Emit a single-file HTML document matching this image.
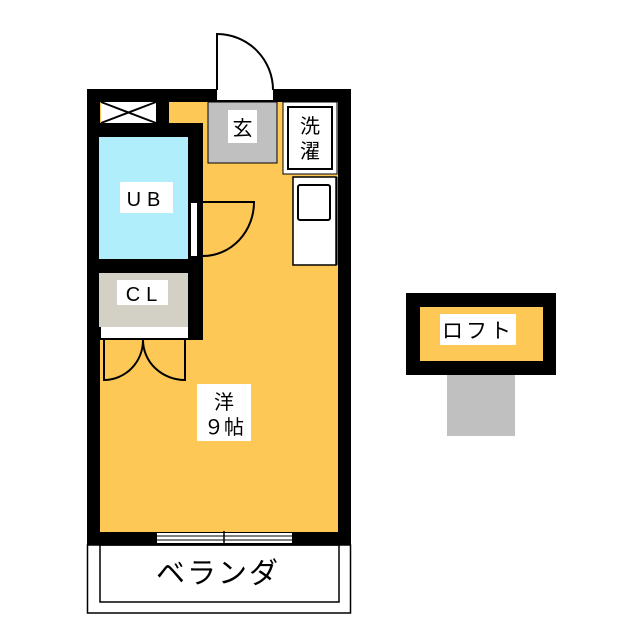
<!DOCTYPE html>
<html><head><meta charset="utf-8"><style>
html,body{margin:0;padding:0;background:#fff;}
svg{display:block;}
text{font-family:"Liberation Sans","Noto Sans CJK JP",sans-serif;fill:#000;}
</style></head><body>
<svg width="640" height="640" viewBox="0 0 640 640" xmlns="http://www.w3.org/2000/svg">
<rect x="0" y="0" width="640" height="640" fill="#fff"/>
<!-- outer walls -->
<rect x="87" y="89" width="264" height="456" fill="#000"/>
<rect x="100" y="102" width="238" height="430" fill="#FEC857"/>
<!-- vent -->
<rect x="101" y="102" width="55" height="21" fill="#fff"/>
<path d="M101 102 L156 123 M156 102 L101 123" stroke="#000" stroke-width="2"/>
<rect x="156" y="100" width="13" height="25" fill="#000"/>
<!-- UB/CL block -->
<rect x="87" y="123" width="116" height="217" fill="#000"/>
<rect x="99" y="137" width="89" height="122" fill="#B0EEFB"/>
<rect x="99" y="273" width="89" height="54" fill="#D3D0C6"/>
<rect x="101" y="327" width="87" height="11" fill="#fff"/>
<!-- UB door -->
<rect x="191" y="203" width="6" height="53" fill="#fff"/>
<path d="M203 202 L254 202 A51 54 0 0 1 203 256" fill="none" stroke="#000" stroke-width="2"/>
<!-- entrance door opening -->
<rect x="217" y="89" width="56" height="11" fill="#fff"/>
<path d="M217 90 L217 34 A56 56 0 0 1 273 90" fill="none" stroke="#000" stroke-width="2"/>
<!-- genkan -->
<rect x="208" y="102" width="69" height="61" fill="#C0C0C0" stroke="#000" stroke-width="1"/>
<rect x="228" y="110" width="29" height="33" fill="#fff"/>
<text x="242.5" y="135" font-size="20" text-anchor="middle">玄</text>
<!-- washer -->
<rect x="283" y="102" width="54" height="72" fill="#fff" stroke="#000" stroke-width="1"/>
<rect x="288" y="107" width="44" height="62" fill="#fff" stroke="#000" stroke-width="2"/>
<text x="310" y="133" font-size="20" text-anchor="middle">洗</text>
<text x="310" y="158" font-size="20" text-anchor="middle">濯</text>
<!-- kitchen -->
<rect x="293" y="177" width="43" height="88" fill="#fff" stroke="#000" stroke-width="1.5"/>
<line x1="337" y1="177" x2="337" y2="265" stroke="#000" stroke-width="1"/>
<rect x="298" y="185" width="32" height="35" rx="2" fill="#fff" stroke="#000" stroke-width="2"/>
<!-- labels -->
<rect x="120" y="182" width="53" height="31" fill="#fff"/>
<text x="146.5" y="206" font-size="20" text-anchor="middle" letter-spacing="6">UB</text>
<rect x="117" y="280" width="51" height="25" fill="#fff"/>
<text x="144.5" y="301" font-size="20" text-anchor="middle" letter-spacing="6">CL</text>
<!-- closet doors -->
<path d="M104 340 L104 380 A39 40 0 0 0 143 340" fill="none" stroke="#000" stroke-width="2"/>
<path d="M185 340 L185 380 A42 40 0 0 1 143 340" fill="none" stroke="#000" stroke-width="2"/>
<!-- room label -->
<rect x="197" y="384" width="54" height="57" fill="#fff"/>
<text x="224" y="409" font-size="20" text-anchor="middle">洋</text>
<text x="224" y="434" font-size="20" text-anchor="middle">９帖</text>
<!-- window -->
<rect x="157" y="533" width="135" height="10" fill="#fff"/>
<path d="M157 536 L292 536 M157 540 L292 540" stroke="#000" stroke-width="1"/>
<line x1="224" y1="531" x2="224" y2="545" stroke="#000" stroke-width="1.5"/>
<!-- veranda -->
<rect x="87.5" y="545" width="263" height="68" fill="none" stroke="#000" stroke-width="1.5"/>
<rect x="100" y="545" width="239" height="57" fill="none" stroke="#000" stroke-width="1.5"/>
<text x="218" y="583" font-size="29" text-anchor="middle" letter-spacing="2">ベランダ</text>
<!-- loft -->
<rect x="406" y="293" width="150" height="82" fill="#000"/>
<rect x="420" y="307" width="123" height="54" fill="#FEC857"/>
<rect x="440" y="314" width="76" height="31" fill="#fff"/>
<text x="478" y="338" font-size="21" text-anchor="middle" letter-spacing="3">ロフト</text>
<rect x="447" y="375" width="68" height="61" fill="#C0C0C0"/>
</svg>
</body></html>
